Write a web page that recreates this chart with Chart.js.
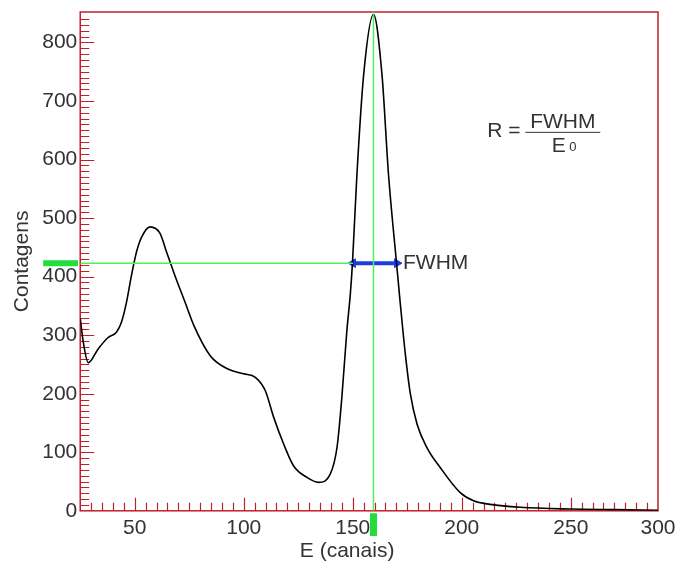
<!DOCTYPE html>
<html>
<head>
<meta charset="utf-8">
<script src="https://cdn.jsdelivr.net/npm/chart.js@4/dist/chart.umd.min.js"></script>
<style>
  html, body { margin: 0; padding: 0; background: #fff; }
  #wrap { width: 675px; height: 563px; }
</style>
</head>
<body>
<div id="wrap"><canvas id="spectrum"></canvas></div>
<script>
// spectrum (channel, counts)
const channels = [25, 26.4, 28.7, 33.3, 37.8, 41.6, 43.9, 46.2, 48.5, 50.8, 53.1, 57, 61.6, 64.6, 68.4, 73, 77.3,
  84.6, 92.3, 99.9, 105.3, 109.9, 113.7, 118.3, 122.8, 129, 134.3, 139.7, 142.8, 145, 147.3, 148.9, 149.9, 151.9,
  155, 159.5, 163.4, 166.4, 170, 171.8, 174.1, 176.4, 179.5, 184, 190.1, 199.3, 205.4, 213, 226.8, 250, 270, 290];
const counts = [329, 288, 253, 277, 296, 305, 322, 356, 402, 442, 467, 485, 474, 442, 402, 357, 315,
  265, 243, 234, 228, 205, 160, 114, 77, 57, 48.5, 63, 109, 194, 308, 371, 426, 574,
  745, 848, 745, 574, 426, 354, 268, 200, 148, 108, 74, 31, 17, 11, 6, 3, 2, 1];

// the picture's last label sits on the right edge of the box
const xTickValues = [50, 100, 150, 200, 250, 290];
const xTickLabels = ['50', '100', '150', '200', '250', '300'];
const yTickValues = [0, 100, 200, 300, 400, 500, 600, 700, 800];

const halfMax = 423;
const peakChannel = 159.5;
const fwhmEdges = [150.1, 170.3];

const FRAME = '#c0202a';
const TEXT = '#333333';
const FONT = "'Liberation Sans', Arial, sans-serif";

// red box with inward ticks, plus the annotations
const framePlugin = {
  id: 'frame',
  beforeDatasetsDraw(chart) {
    const { ctx, chartArea: a, scales: { x, y } } = chart;
    ctx.save();
    ctx.strokeStyle = FRAME;
    ctx.lineWidth = 1.5;
    ctx.strokeRect(a.left, a.top, a.right - a.left, a.bottom - a.top);
    ctx.lineWidth = 1.2;
    ctx.beginPath();
    for (let v = 30; v < 290; v += 5) {
      const px = Math.round(x.getPixelForValue(v)) + 0.5;
      const len = v % 50 === 0 ? 13 : 8;
      ctx.moveTo(px, a.bottom);
      ctx.lineTo(px, a.bottom - len);
    }
    for (let v = 10; v <= 840; v += 10) {
      const py = Math.round(y.getPixelForValue(v)) + 0.5;
      const len = v % 100 === 0 ? 14 : 9;
      ctx.moveTo(a.left, py);
      ctx.lineTo(a.left + len, py);
    }
    ctx.stroke();
    ctx.restore();
  },
  afterDraw(chart) {
    const { ctx, chartArea: a, scales: { x, y } } = chart;
    ctx.save();
    ctx.fillStyle = TEXT;
    ctx.textBaseline = 'middle';

    // FWHM label next to arrow
    ctx.font = '21px ' + FONT;
    ctx.textAlign = 'left';
    ctx.fillText('FWHM', x.getPixelForValue(fwhmEdges[1]) + 6, y.getPixelForValue(halfMax));

    // R = FWHM / E0
    const fx = x.getPixelForValue(211.7);
    const fy = y.getPixelForValue(649);
    ctx.font = '21px ' + FONT;
    ctx.fillText('R =', fx, fy);
    const lineL = fx + 38, lineR = fx + 113;
    const mid = (lineL + lineR) / 2;
    ctx.textAlign = 'center';
    ctx.fillText('FWHM', mid, fy - 9);
    ctx.fillText('E', mid - 4, fy + 15);
    ctx.font = '13px ' + FONT;
    ctx.fillText('0', mid + 10, fy + 17);
    ctx.strokeStyle = TEXT;
    ctx.lineWidth = 1;
    ctx.beginPath();
    ctx.moveTo(lineL, fy + 1.5);
    ctx.lineTo(lineR, fy + 1.5);
    ctx.stroke();

    // x axis title
    ctx.font = '21px ' + FONT;
    ctx.textAlign = 'center';
    ctx.fillText('E (canais)', (a.left + a.right) / 2 - 22, a.bottom + 40);
    ctx.restore();
  }
};

const green = '#52ee5e';
const greenBold = '#22dd3c';
const blue = '#1c3ce6';

new Chart(document.getElementById('spectrum'), {
  type: 'line',
  data: {
    datasets: [
      {
        data: [{ x: 25, y: halfMax }, { x: fwhmEdges[0], y: halfMax }],
        borderColor: green, borderWidth: 1.5, pointRadius: 0
      },
      {
        data: [{ x: peakChannel, y: 0 }, { x: peakChannel, y: 852 }],
        borderColor: green, borderWidth: 1.5, pointRadius: 0
      },
      {
        data: [{ x: 8, y: halfMax }, { x: 24, y: halfMax }],
        borderColor: greenBold, borderWidth: 6, pointRadius: 0, clip: false
      },
      {
        data: [{ x: peakChannel, y: -4 }, { x: peakChannel, y: -43 }],
        borderColor: greenBold, borderWidth: 7, pointRadius: 0, clip: false
      },
      {
        data: channels.map((c, i) => ({ x: c, y: counts[i] })),
        borderColor: '#000', borderWidth: 1.6, pointRadius: 0,
        cubicInterpolationMode: 'monotone'
      },
      {
        data: fwhmEdges.map(c => ({ x: c, y: halfMax })),
        borderColor: blue, backgroundColor: blue, borderWidth: 4,
        pointStyle: 'triangle', pointRadius: 5, pointRotation: [270, 90], pointBorderWidth: 1
      }
    ]
  },
  options: {
    responsive: true,
    maintainAspectRatio: false,
    animation: false,
    layout: { padding: { left: 10, right: 17, top: 12, bottom: 17 } },
    plugins: { legend: { display: false }, tooltip: { enabled: false } },
    scales: {
      x: {
        type: 'linear', min: 25, max: 290,
        afterBuildTicks: s => { s.ticks = xTickValues.map(v => ({ value: v })); },
        afterFit: s => { s.paddingRight = 0; s.paddingLeft = 0; },
        grid: { display: false, drawTicks: false },
        border: { display: false },
        ticks: {
          color: TEXT, font: { family: FONT, size: 21 }, padding: 5, maxRotation: 0,
          callback: (v, i) => xTickLabels[i]
        }
      },
      y: {
        min: 0, max: 852,
        afterBuildTicks: s => { s.ticks = yTickValues.map(v => ({ value: v })); },
        afterFit: s => { s.paddingTop = 0; s.paddingBottom = 0; },
        grid: { display: false, drawTicks: false },
        border: { display: false },
        ticks: { color: TEXT, font: { family: FONT, size: 21 }, padding: 3 },
        title: { display: true, text: 'Contagens', color: TEXT, font: { family: FONT, size: 21 }, padding: { top: 0, bottom: 4 } }
      }
    }
  },
  plugins: [framePlugin]
});
</script>
</body>
</html>
